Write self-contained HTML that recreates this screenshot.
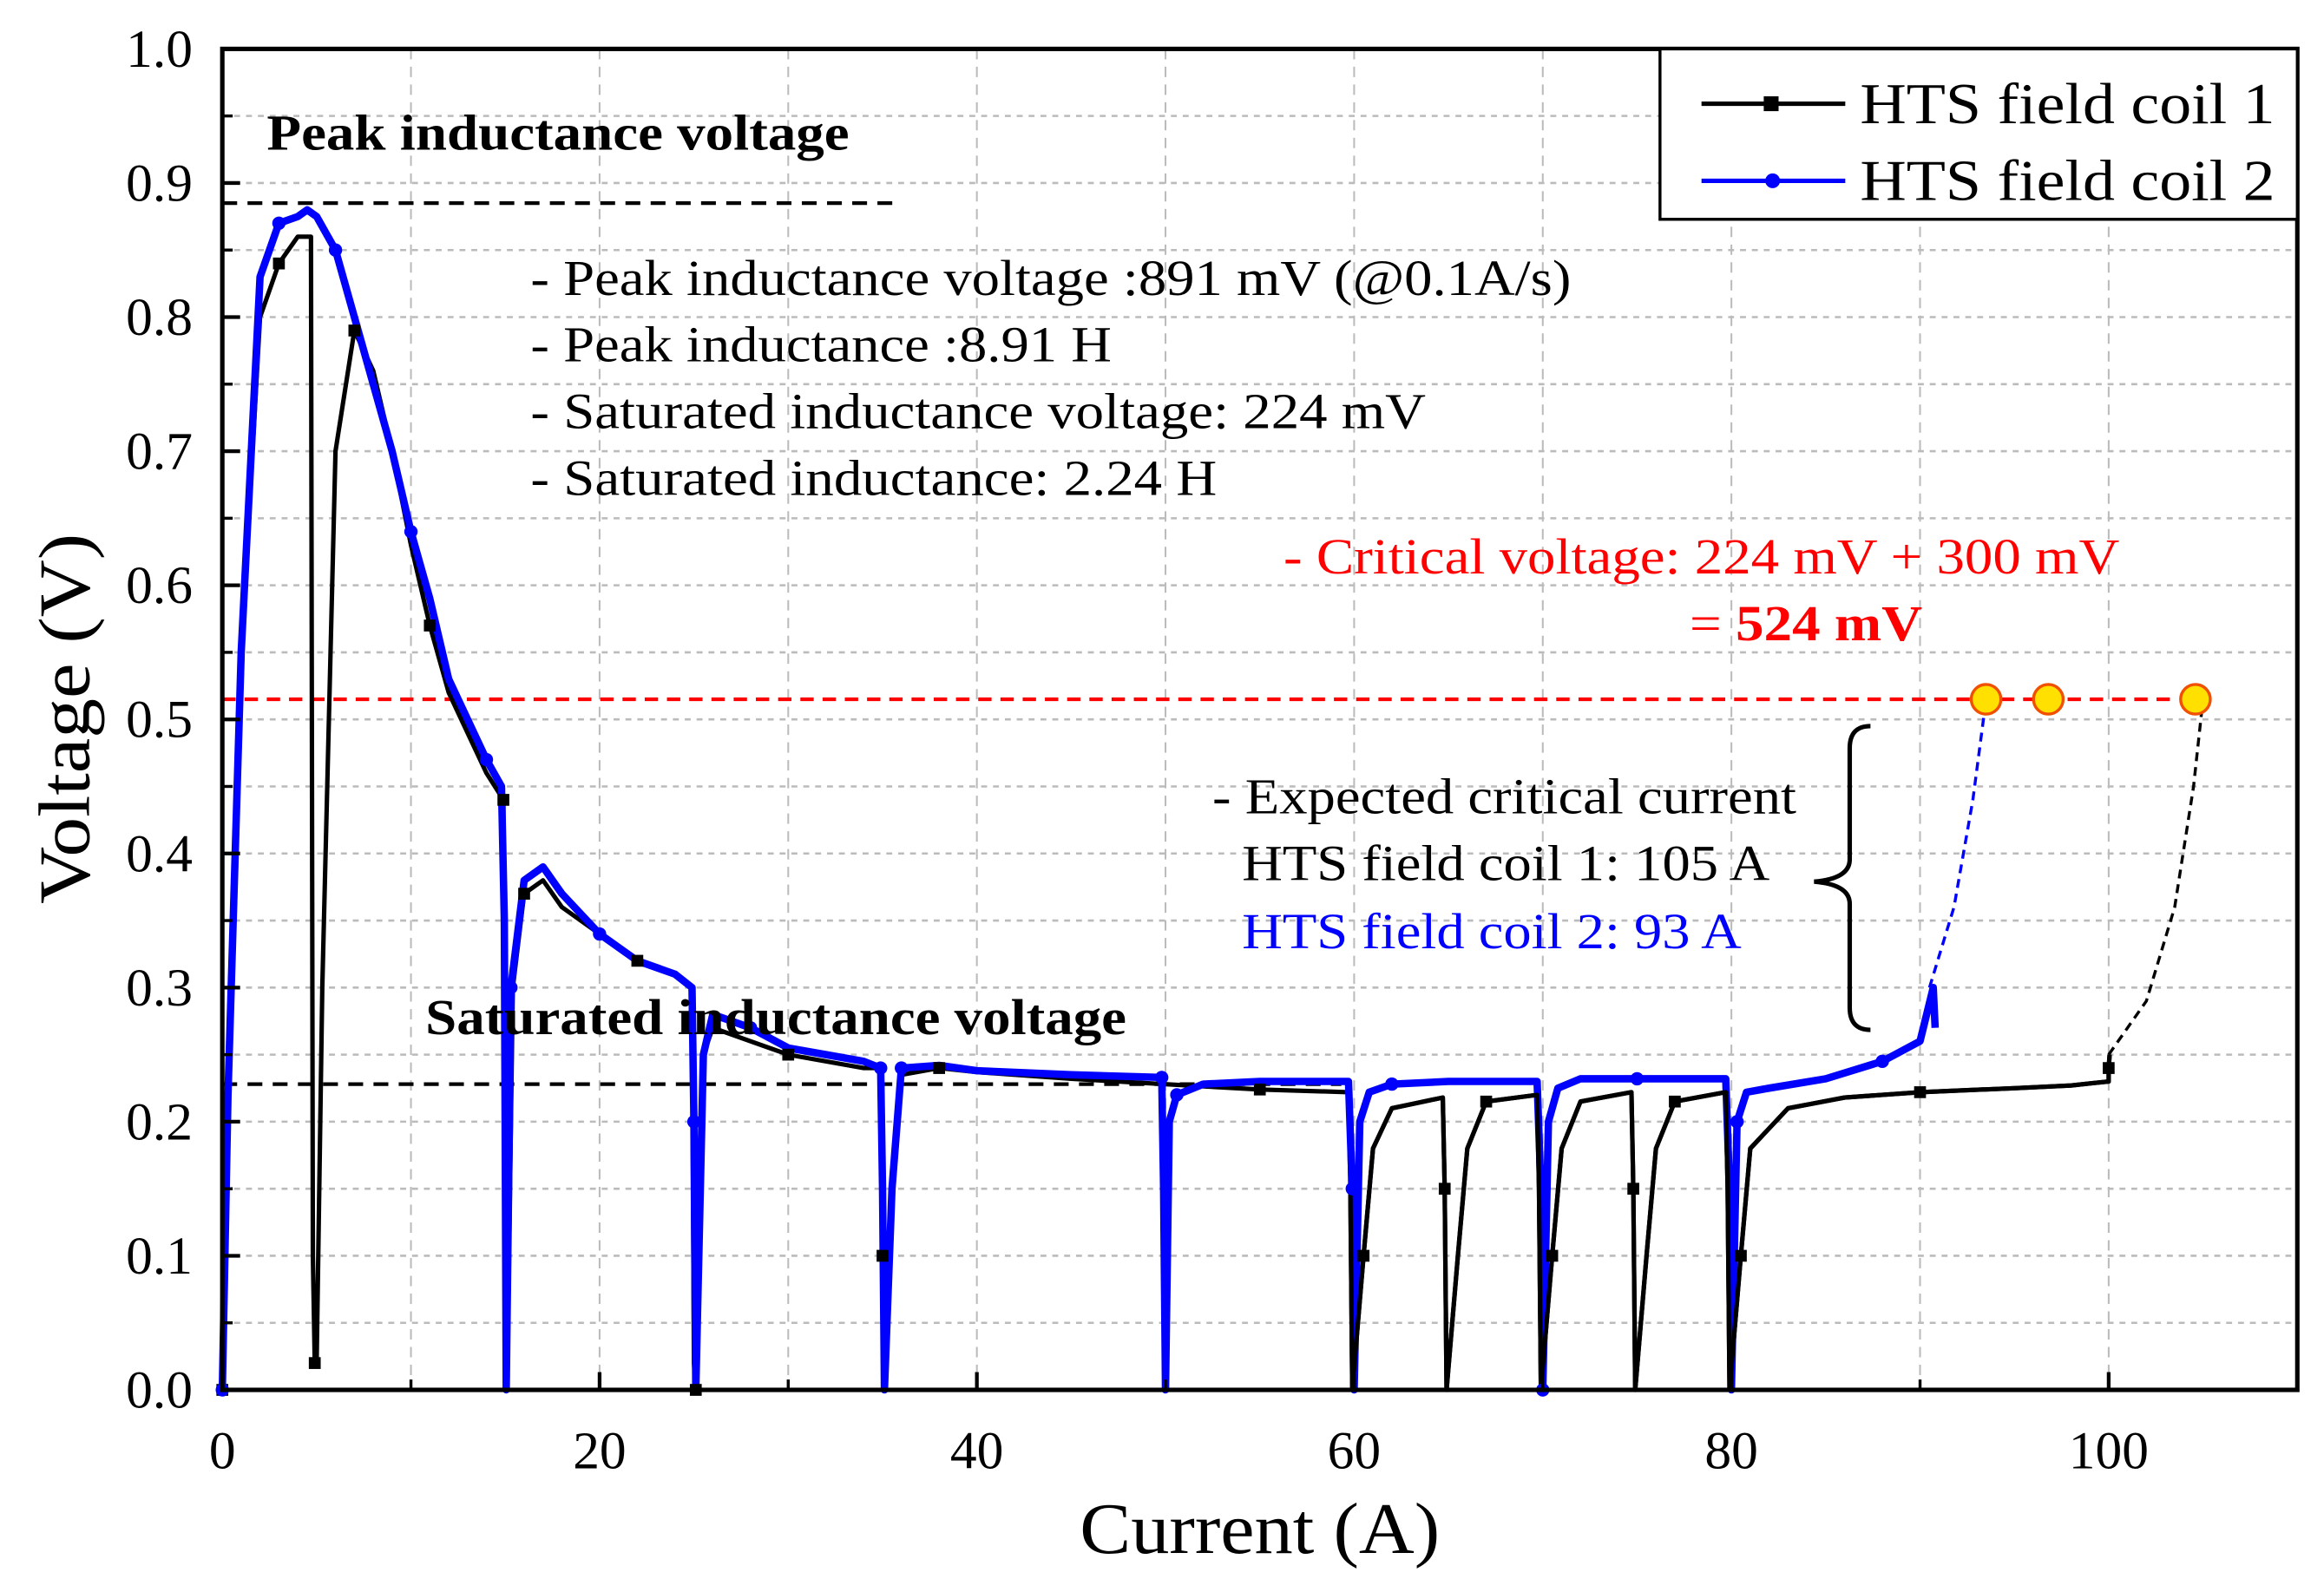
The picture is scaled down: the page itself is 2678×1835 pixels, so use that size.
<!DOCTYPE html>
<html><head><meta charset="utf-8"><style>
html,body{margin:0;padding:0;background:#fff}
svg{display:block}
text{font-family:"Liberation Serif","Times New Roman",serif}
</style></head><body>
<svg id="chart" width="2678" height="1835" viewBox="0 0 1568 1074.4" xmlns="http://www.w3.org/2000/svg">
<g id="grid"></g>
<g id="series"></g>
<g id="axes"></g>
<g id="annot">
  <text x="180" y="101" font-size="34" font-weight="bold" textLength="393" lengthAdjust="spacingAndGlyphs">Peak inductance voltage</text>
  <text x="358" y="199" font-size="34" textLength="702" lengthAdjust="spacingAndGlyphs">- Peak inductance voltage :891 mV (@0.1A/s)</text>
  <text x="358" y="244" font-size="34" textLength="392" lengthAdjust="spacingAndGlyphs">- Peak inductance :8.91 H</text>
  <text x="358" y="289" font-size="34" textLength="604" lengthAdjust="spacingAndGlyphs">- Saturated inductance voltage: 224 mV</text>
  <text x="358" y="334" font-size="34" textLength="463" lengthAdjust="spacingAndGlyphs">- Saturated inductance: 2.24 H</text>
  <text x="866" y="387" font-size="34" fill="#ff0000" textLength="564" lengthAdjust="spacingAndGlyphs">- Critical voltage: 224 mV + 300 mV</text>
  <text x="1140" y="432" font-size="34" fill="#ff0000" textLength="157" lengthAdjust="spacingAndGlyphs">= <tspan font-weight="bold">524 mV</tspan></text>
  <text x="287" y="698" font-size="34" font-weight="bold" textLength="473" lengthAdjust="spacingAndGlyphs">Saturated inductance voltage</text>
  <text x="818" y="549" font-size="34" textLength="394" lengthAdjust="spacingAndGlyphs">- Expected critical current</text>
  <text x="838" y="594" font-size="34" textLength="356" lengthAdjust="spacingAndGlyphs">HTS field coil 1: 105 A</text>
  <text x="838" y="640" font-size="34" fill="#0000ff" textLength="337" lengthAdjust="spacingAndGlyphs">HTS field coil 2: 93 A</text>
  <path d="M1262,490 Q1248,490 1248,505 L1248,580 Q1248,593 1224,595 Q1248,597 1248,610 L1248,680 Q1248,695 1262,695" fill="none" stroke="#000" stroke-width="3"/>
</g>
<g id="legend">
  <rect x="1120" y="33" width="430" height="115" fill="#fff" stroke="#000" stroke-width="2"/>
  <line x1="1148" y1="70" x2="1245" y2="70" stroke="#000" stroke-width="3"/>
  <rect x="1190" y="65" width="10" height="10" fill="#000"/>
  <text x="1255" y="83" font-size="39" textLength="280" lengthAdjust="spacingAndGlyphs">HTS field coil 1</text>
  <line x1="1148" y1="122" x2="1245" y2="122" stroke="#0000ff" stroke-width="3"/>
  <circle cx="1196" cy="122" r="5" fill="#0000ff"/>
  <text x="1255" y="135" font-size="39" textLength="280" lengthAdjust="spacingAndGlyphs">HTS field coil 2</text>
</g>
</svg>
<script>
const xTicks=[0,20,40,60,80,100];
const yTicks=[0.0,0.1,0.2,0.3,0.4,0.5,0.6,0.7,0.8,0.9,1.0];
const coil1I=[0,0.4,1,2,3,4,4.7,4.8,4.9,5,5.3,6,7,8,9,10,11,12,13,14,14.9,15,15.1,15.4,16,17,18,20,22,24,24.9,25,25.1,25.5,26,28,30,32,34,34.9,35,35.1,35.5,36,38,40,45,49.9,55,59.7,59.8,59.9,60.5,61,62,64.7,64.8,64.9,65.5,66,67,69.7,69.8,69.9,70.5,71,72,74.7,74.8,74.9,75.5,76,77,79.7,79.8,79.9,80.5,81,83,86,90,95,98,100,100,100.05];
const coil1V=[0,0.25,0.55,0.8,0.84,0.86,0.86,0.1,0.02,0.02,0.3,0.7,0.79,0.76,0.7,0.63,0.57,0.52,0.49,0.46,0.44,0.06,0,0.3,0.37,0.38,0.36,0.34,0.32,0.31,0.3,0.02,0,0.25,0.27,0.26,0.25,0.245,0.24,0.24,0.1,0,0.16,0.235,0.24,0.237,0.232,0.228,0.224,0.222,0.15,0,0.1,0.18,0.21,0.218,0.15,0,0.1,0.18,0.215,0.22,0.15,0,0.1,0.18,0.215,0.222,0.15,0,0.1,0.18,0.215,0.222,0.15,0,0.1,0.18,0.21,0.218,0.222,0.225,0.227,0.23,0.24,0.25,0.03,0];
const coil2I=[0,0.3,1,2,3,4,4.5,5,6,7,8,9,10,11,12,13,14,14.8,14.95,15.05,15.3,16,17,18,20,22,24,24.9,25,25.1,25.5,26,28,30,32,34,34.9,35,35.1,35.5,36,38,40,45,49.8,49.9,50,50.2,50.6,52,55,59.7,59.9,60,60.3,60.8,62,65,69.7,69.9,70,70.3,70.8,72,75,79.7,79.9,80,80.3,80.8,82,85,88,90,90.7,90.8];
const coil2V=[0,0.22,0.55,0.83,0.87,0.875,0.88,0.875,0.85,0.8,0.75,0.7,0.64,0.59,0.53,0.5,0.47,0.45,0.35,0,0.3,0.38,0.39,0.37,0.34,0.32,0.31,0.3,0.2,0,0.25,0.28,0.27,0.255,0.25,0.245,0.24,0.15,0,0.15,0.24,0.242,0.238,0.235,0.233,0.15,0,0.2,0.22,0.228,0.23,0.23,0.15,0,0.2,0.222,0.228,0.23,0.23,0.15,0,0.2,0.225,0.232,0.232,0.232,0.15,0,0.2,0.222,0.225,0.232,0.245,0.26,0.3,0.27];
const extrap1I=[100,102,103.5,104.5,105];
const extrap1V=[0.25,0.29,0.36,0.45,0.515];
const extrap2I=[90.5,91.8,92.8,93.5];
const extrap2V=[0.3,0.36,0.44,0.515];
const criticalV=0.515;
const criticalPointsI=[93.5,96.8,104.6];
const peakV=0.885;
const satV=0.228;

const L=150,R=1550,T=33,B=938,XMAX=110;
const sx=v=>L+(v/XMAX)*(R-L);
const sy=v=>B-v*(B-T);
const NS='http://www.w3.org/2000/svg';
function mk(tag,attrs,parent){const e=document.createElementNS(NS,tag);for(const k in attrs)e.setAttribute(k,attrs[k]);parent.appendChild(e);return e;}
const grid=document.getElementById('grid'),ser=document.getElementById('series'),axes=document.getElementById('axes');

for(let v=0.05;v<1;v+=0.05){const g=mk('line',{x1:L,x2:R,y1:sy(v),y2:sy(v),stroke:'#bbb','stroke-width':1.5,'stroke-dasharray':'4,4'},grid);

}
for(let v=10;v<XMAX;v+=10){const g=mk('line',{x1:sx(v),x2:sx(v),y1:T,y2:B,stroke:'#bbb','stroke-width':1.2,'stroke-dasharray':'7,5'},grid);

}

function poly(I,V,color,w,dash,name){const d=I.map((x,i)=>(i?'L':'M')+sx(x).toFixed(2)+','+sy(V[i]).toFixed(2)).join('');
const p=mk('path',{d:d,fill:'none',stroke:color,'stroke-width':w,'stroke-linejoin':'round'},ser);if(dash)p.setAttribute('stroke-dasharray',dash);

return p;}

const rl=mk('line',{x1:L,x2:sx(103.3),y1:sy(criticalV),y2:sy(criticalV),stroke:'#f00','stroke-width':2.5,'stroke-dasharray':'9,6'},ser);


const pl=mk('line',{x1:L,x2:608,y1:sy(peakV),y2:sy(peakV),stroke:'#000','stroke-width':2.5,'stroke-dasharray':'10,7'},ser);


const sl=mk('line',{x1:L,x2:905,y1:sy(satV),y2:sy(satV),stroke:'#000','stroke-width':2.5,'stroke-dasharray':'10,7'},ser);



poly(coil1I,coil1V,'#000',3,null,'coil1-line');
poly(coil2I,coil2V,'#0000ff',5,null,'coil2-line');
poly(extrap1I,extrap1V,'#000',2,'6,4','coil1-extrapolation');
poly(extrap2I,extrap2V,'#0000ff',2,'6,4','coil2-extrapolation');
poly(coil1I.slice(50),coil1V.slice(50),'#000',3,null,'coil1-line-high');
coil1I.forEach((x,i)=>{if(i%4===0){const m=mk('rect',{x:sx(x)-4,y:sy(coil1V[i])-4,width:8,height:8,fill:'#000'},ser);

}});
coil2I.forEach((x,i)=>{if(i%4===0){const m=mk('circle',{cx:sx(x),cy:sy(coil2V[i]),r:4.5,fill:'#0000ff'},ser);

}});
criticalPointsI.forEach(x=>{const c=mk('circle',{cx:sx(x),cy:sy(criticalV),r:10,fill:'#ffe000',stroke:'#f05000','stroke-width':2},ser);

});

const fr=mk('rect',{x:L,y:T,width:R-L,height:B-T,fill:'none',stroke:'#000','stroke-width':3},axes);


yTicks.forEach(v=>{const t=mk('line',{x1:L,x2:L+12,y1:sy(v),y2:sy(v),stroke:'#000','stroke-width':2.5},axes);


const tx=mk('text',{x:L-20,y:sy(v)+12,'font-size':36,'text-anchor':'end'},axes);tx.textContent=v.toFixed(1);

});
for(let v=0.05;v<1;v+=0.1){const t=mk('line',{x1:L,x2:L+7,y1:sy(v),y2:sy(v),stroke:'#000','stroke-width':2},axes);

}
xTicks.forEach(v=>{const t=mk('line',{x1:sx(v),x2:sx(v),y1:B,y2:B-12,stroke:'#000','stroke-width':2.5},axes);


const tx=mk('text',{x:sx(v),y:991,'font-size':36,'text-anchor':'middle'},axes);tx.textContent=String(v);

});
for(let v=10;v<XMAX;v+=20){const t=mk('line',{x1:sx(v),x2:sx(v),y1:B,y2:B-7,stroke:'#000','stroke-width':2},axes);

}
const xt=mk('text',{x:850,y:1048,'font-size':49,'text-anchor':'middle',textLength:243,lengthAdjust:'spacingAndGlyphs'},axes);xt.textContent='Current (A)';


const yt=mk('text',{x:0,y:0,'font-size':49,'text-anchor':'middle',textLength:250,lengthAdjust:'spacingAndGlyphs',transform:'translate(60,485) rotate(-90)'},axes);yt.textContent='Voltage (V)';


</script>
</body></html>
